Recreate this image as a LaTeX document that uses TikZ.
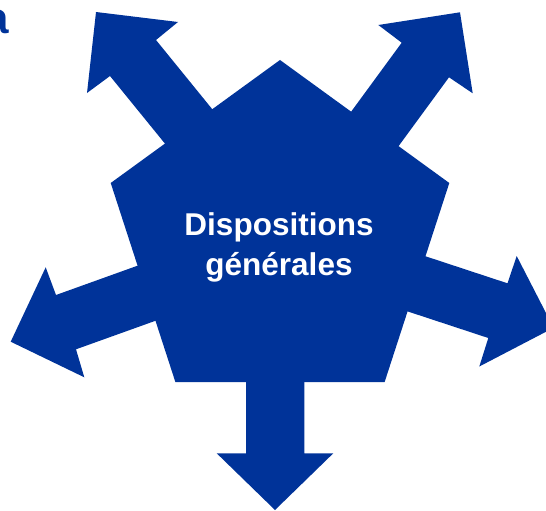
\documentclass[tikz,border=0pt]{standalone}
\usepackage{fontspec}
\setmainfont{Liberation Sans}
\usetikzlibrary{shapes.geometric}
\definecolor{dispblue}{RGB}{0,51,153}
\tikzset{
  arrowshape/.style={fill=dispblue, draw=none},
  pentshape/.style={regular polygon, regular polygon sides=5, minimum size=356pt,
    inner sep=0pt, outer sep=0pt, fill=dispblue, draw=none},
  labeltext/.style={text=white, font=\bfseries\fontsize{31.5}{40}\selectfont, inner sep=0pt, anchor=base}
}
\begin{document}
\begin{tikzpicture}[x=1pt, y=-1pt]
\useasboundingbox (0,0) rectangle (546,511);
% arrows (behind the pentagon)
\fill[arrowshape] (96,12) -- (178,22) -- (156,40) -- (282,195) -- (236,231) -- (110,76) -- (87,93) -- cycle;
\fill[arrowshape] (460,12.3) -- (472.7,93.3) -- (449,77.3) -- (331,238.3) -- (283.7,203.7) -- (401.7,42.7) -- (378.3,25) -- cycle;
\fill[arrowshape] (10.7,341.7) -- (45.7,267.3) -- (56,295) -- (263,220.6) -- (283,275) -- (76,349.3) -- (84.3,377.3) -- cycle;
\fill[arrowshape] (553.6,327.8) -- (479.3,366.5) -- (488.3,338) -- (269.8,266) -- (289,211.3) -- (507.5,283.3) -- (516.7,256) -- cycle;
\fill[arrowshape] (275,510) -- (216.7,453.3) -- (246,453.3) -- (246,300) -- (304.3,300) -- (304.3,453.3) -- (333.3,453.3) -- cycle;
% pentagon
\node[pentshape] (pent) at (280,238) {};
\node[labeltext] (line1) at (279,235) {Dispositions};
\node[labeltext] (line2) at (279,275) {générales};
% cropped title letter
\node[text=dispblue, font=\bfseries\fontsize{44}{50}\selectfont, inner sep=0pt, anchor=base east] (titlea) at (9,34) {a};
\end{tikzpicture}
\end{document}
